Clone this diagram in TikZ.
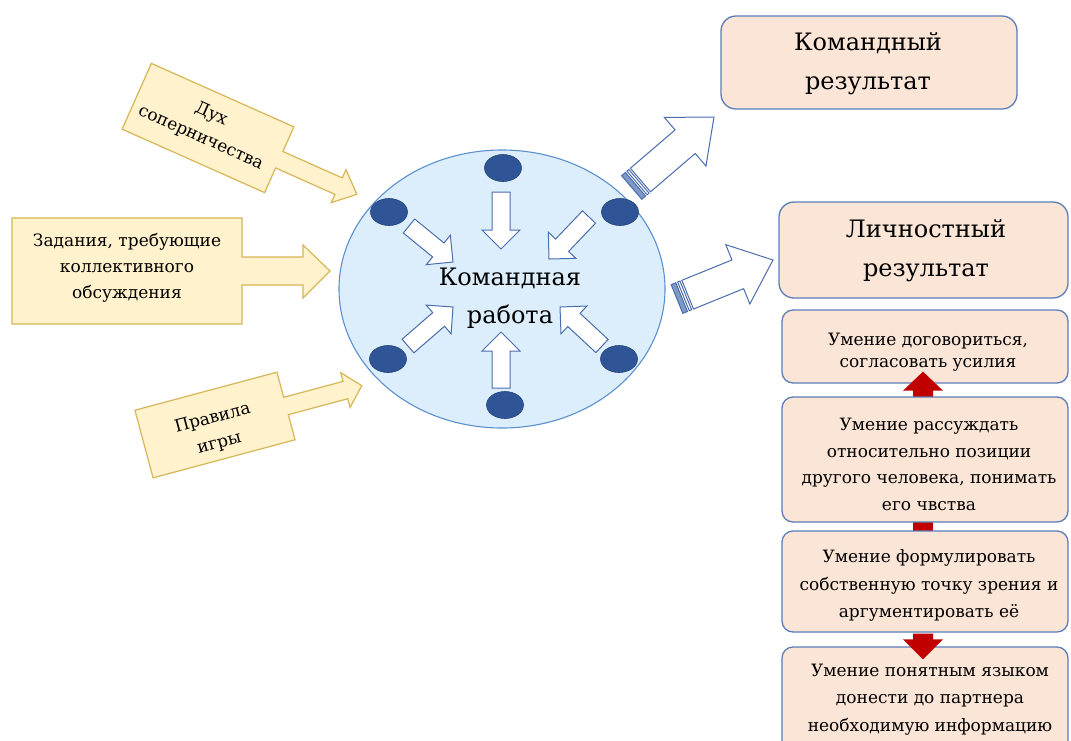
\documentclass[tikz,border=0pt]{standalone}
\usepackage{fontspec}
\setmainfont{DejaVu Serif}
\usetikzlibrary{calc,shapes.geometric}
\definecolor{yfill}{HTML}{FFF2CC}
\definecolor{ydraw}{HTML}{D6B656}
\definecolor{pfill}{HTML}{FBE5D6}
\definecolor{bdraw}{HTML}{5B7DB8}
\definecolor{efill}{HTML}{DCEEFB}
\definecolor{edraw}{HTML}{5B90CE}
\definecolor{dotc}{HTML}{2F5597}
\definecolor{arrc}{HTML}{4A6DAD}
\definecolor{redc}{HTML}{C00000}

\newcommand{\fatarrow}[6]{%
  \coordinate (fatT) at (#2);
  \coordinate (fatH) at (#3);
  \coordinate (fatB) at ($(fatH)!#6pt!(fatT)$);
  \draw[#1] ($(fatT)!#4pt!90:(fatH)$) -- ($(fatB)!#4pt!90:(fatH)$) -- ($(fatB)!#5pt!90:(fatH)$) -- (fatH) -- ($(fatB)!#5pt!-90:(fatH)$) -- ($(fatB)!#4pt!-90:(fatH)$) -- ($(fatT)!#4pt!-90:(fatH)$) -- cycle;
}
\newcommand{\stripedarrow}[6]{%
  \coordinate (stT) at (#2);
  \coordinate (stH) at (#3);
  \coordinate (stA) at ($(stT)!5pt!(stH)$);
  \coordinate (stB) at ($(stT)!7pt!(stH)$);
  \coordinate (stC) at ($(stT)!9.5pt!(stH)$);
  \coordinate (stD) at ($(stT)!11.5pt!(stH)$);
  \draw[#1, fill=arrc!70] ($(stT)!#4pt!90:(stH)$) -- ($(stA)!#4pt!90:(stH)$) -- ($(stA)!#4pt!-90:(stH)$) -- ($(stT)!#4pt!-90:(stH)$) -- cycle;
  \draw[#1] ($(stB)!#4pt!90:(stH)$) -- ($(stC)!#4pt!90:(stH)$) -- ($(stC)!#4pt!-90:(stH)$) -- ($(stB)!#4pt!-90:(stH)$) -- cycle;
  \fatarrow{#1}{stD}{stH}{#4}{#5}{#6}
}

\begin{document}
\begin{tikzpicture}[x=1pt,y=-1pt,
  callout/.style={fill=yfill, draw=ydraw, line width=1.2pt, line join=miter},
  lbl/.style={font=\fontsize{17}{26}\selectfont, align=center, inner sep=0pt},
  biglbl/.style={font=\fontsize{24}{39}\selectfont, align=center, inner sep=0pt},
  bigbox/.style={rectangle, rounded corners=15pt, fill=pfill, draw=bdraw, line width=1.3pt, inner sep=0pt},
  smallbox/.style={rectangle, rounded corners=11pt, fill=pfill, draw=bdraw, line width=1.3pt, inner sep=0pt, minimum width=286pt},
  dot/.style={ellipse, fill=dotc, draw=dotc!80!black, line width=0.6pt, minimum width=37pt, minimum height=27pt, inner sep=0pt},
  hollow/.style={fill=white, draw=arrc, line width=1pt, line join=miter},
  redarrow/.style={fill=redc, draw=none}]
\clip (0,0) rectangle (1071,740);
\fill[white] (0,0) rectangle (1071,740);

% left callouts
\begin{scope}[shift={(208,128)},rotate=-24]
\draw[callout] (-78,-36) -- (78,-36) -- (78,-9) -- (143,-9) -- (143,-18) -- (163,0) -- (143,18) -- (143,9) -- (78,9) -- (78,36) -- (-78,36) -- cycle;
\end{scope}
\node[lbl, rotate=-24] (duh) at (206,126) {Дух\\соперничества};

\draw[callout] (12,218) -- (242,218) -- (242,257) -- (303,257) -- (303,245) -- (330,271) -- (303,298) -- (303,285) -- (242,285) -- (242,324) -- (12,324) -- cycle;
\node[lbl] (zad) at (127,267.5) {Задания, требующие\\коллективного\\обсуждения};

\begin{scope}[shift={(215,425)},rotate=15]
\draw[callout] (-73.5,-35) -- (73.5,-35) -- (73.5,-9) -- (135,-9) -- (135,-18) -- (152,0) -- (135,18) -- (135,9) -- (73.5,9) -- (73.5,35) -- (-73.5,35) -- cycle;
\end{scope}
\node[lbl, rotate=15] (prav) at (216,431) {Правила\\игры};

% central ellipse
\node[ellipse, draw=edraw, fill=efill, line width=1.1pt, minimum width=326pt, minimum height=278pt, inner sep=0pt] (team) at (502,289) {};
\node[dot] (d1) at (503,168) {};
\node[dot] (d2) at (389,212) {};
\node[dot] (d3) at (620,212) {};
\node[dot] (d4) at (388,359) {};
\node[dot] (d5) at (619,359) {};
\node[dot] (d6) at (505,405) {};
\node[biglbl, font=\fontsize{24}{38}\selectfont] (tw) at (510,298) {Командная\\работа};

\coordinate (a1t) at (501,192); \coordinate (a1h) at (501,249);
\coordinate (a2t) at (501,388); \coordinate (a2h) at (501,332);
\coordinate (a3t) at (409,226); \coordinate (a3h) at (453,262);
\coordinate (a4t) at (589,217); \coordinate (a4h) at (549,259);
\coordinate (a5t) at (408,346); \coordinate (a5h) at (453,307);
\coordinate (a6t) at (602,346); \coordinate (a6h) at (560,307);
\fatarrow{hollow}{a1t}{a1h}{9}{19}{19}
\fatarrow{hollow}{a2t}{a2h}{9}{19}{19}
\fatarrow{hollow}{a3t}{a3h}{9}{19}{19}
\fatarrow{hollow}{a4t}{a4h}{9}{19}{19}
\fatarrow{hollow}{a5t}{a5h}{9}{19}{19}
\fatarrow{hollow}{a6t}{a6h}{9}{19}{19}

% right big boxes
\node[bigbox, minimum width=296pt, minimum height=93pt] (kom) at (869,62.5) {};
\node[biglbl] (komt) at (868,64) {Командный\\результат};
\node[bigbox, minimum width=289pt, minimum height=96pt] (lich) at (923.5,250) {};
\node[biglbl] (licht) at (926,250.5) {Личностный\\результат};

% striped arrows
\coordinate (r1t) at (631.7,187.5); \coordinate (r1h) at (714,117);
\coordinate (r2t) at (677,299); \coordinate (r2h) at (773,260);
\stripedarrow{hollow}{r1t}{r1h}{15.5}{32}{38}
\stripedarrow{hollow}{r2t}{r2h}{15.5}{32}{38}

% small boxes
\node[smallbox, minimum height=73pt] (s1) at (925,346.5) {};
\node[lbl, font=\fontsize{17}{22}\selectfont] (s1t) at (928,352.5) {Умение договориться,\\согласовать усилия};
\fatarrow{redarrow}{$(s1.south)+(-2,15)$}{$(s1.south)+(-2,-12)$}{10}{20}{19}
\fill[redc] ($(s1.south)+(-12,130)$) rectangle ($(s1.south)+(8,155)$);
\node[smallbox, minimum height=125pt] (s2) at (925,459.5) {};
\node[lbl, font=\fontsize{17}{26.5}\selectfont] (s2t) at (929,464.5) {Умение рассуждать\\относительно позиции\\другого человека, понимать\\его чвства};
\node[smallbox, minimum height=101pt] (s3) at (925,581.5) {};
\node[lbl, font=\fontsize{17}{27.5}\selectfont] (s3t) at (929,585.5) {Умение формулировать\\собственную точку зрения и\\аргументировать её};
\node[smallbox, minimum height=113pt] (s4) at (925,703.5) {};
\node[lbl, font=\fontsize{17}{27.5}\selectfont] (s4t) at (930,699.5) {Умение понятным языком\\донести до партнера\\необходимую информацию};
\fatarrow{redarrow}{$(s3.south)+(-2,1)$}{$(s4.north)+(-2,13)$}{10}{20}{20}
\end{tikzpicture}
\end{document}
